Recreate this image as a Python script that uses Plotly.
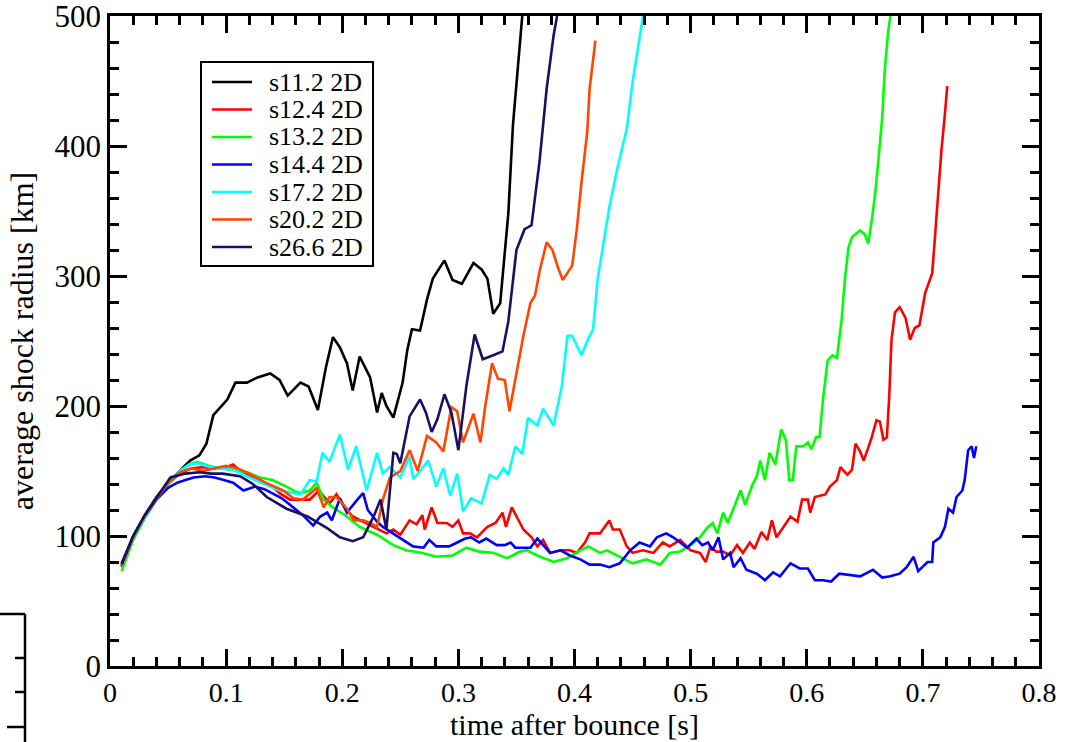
import plotly.graph_objects as go

# ---------------- data ----------------
names = ["s11.2 2D", "s12.4 2D", "s13.2 2D", "s14.4 2D", "s17.2 2D", "s20.2 2D", "s26.6 2D"]
colors = ["#000000", "#ff0000", "#00ff00", "#0000ff", "#00ffff", "#ff4500", "#1a1060"]

t_s11 = [0.010, 0.020, 0.030, 0.040, 0.050, 0.060, 0.069, 0.077, 0.083, 0.089, 0.095, 0.101, 0.108, 0.118,
         0.127, 0.138, 0.146, 0.153, 0.164, 0.171, 0.179, 0.186, 0.192, 0.198, 0.204, 0.209, 0.215, 0.224,
         0.230, 0.234, 0.238, 0.244, 0.252, 0.256, 0.260, 0.267, 0.273, 0.278, 0.288, 0.295, 0.303, 0.313,
         0.320, 0.325, 0.330, 0.336, 0.343, 0.347, 0.351, 0.355]
r_s11 = [77, 100, 116, 130, 141, 150, 158, 162, 171, 193, 199, 205, 218, 218,
         222, 225, 220, 208, 218, 215, 197, 230, 253, 245, 233, 212, 238, 222,
         195, 210, 200, 191, 218, 243, 259, 258, 282, 298, 312, 297, 294, 310,
         305, 298, 271, 279, 348, 416, 458, 500]

t_s12 = [0.010, 0.020, 0.030, 0.040, 0.050, 0.060, 0.070, 0.080, 0.090, 0.100, 0.106, 0.112, 0.120, 0.131,
         0.140, 0.146, 0.155, 0.164, 0.172, 0.180, 0.189, 0.195, 0.202, 0.209, 0.218, 0.227, 0.238, 0.244,
         0.250, 0.258, 0.264, 0.269, 0.271, 0.277, 0.282, 0.290, 0.295, 0.300, 0.304, 0.310, 0.316, 0.325,
         0.332, 0.338, 0.341, 0.346, 0.350, 0.356, 0.363, 0.368, 0.373, 0.379, 0.388, 0.396, 0.402, 0.409,
         0.413, 0.422, 0.430, 0.433, 0.439, 0.445, 0.450, 0.459, 0.468, 0.476, 0.482, 0.491, 0.500, 0.508,
         0.513, 0.517, 0.522, 0.528, 0.534, 0.540, 0.545, 0.551, 0.555, 0.561, 0.566, 0.570, 0.574, 0.580,
         0.586, 0.592, 0.596, 0.601, 0.603, 0.607, 0.616, 0.620, 0.626, 0.629, 0.635, 0.639, 0.642, 0.646,
         0.649, 0.653, 0.656, 0.660, 0.663, 0.666, 0.669, 0.671, 0.673, 0.676, 0.680, 0.685, 0.689, 0.693,
         0.697, 0.702, 0.708, 0.710, 0.713, 0.716, 0.719, 0.721]
r_s12 = [76, 99, 116, 129, 140, 148, 152, 153, 152, 153, 155, 150, 146, 141,
         138, 133, 128, 128, 128, 135, 125, 132, 122, 115, 111, 107, 102, 105,
         101, 112, 109, 116, 105, 122, 110, 110, 107, 112, 102, 102, 99, 107,
         110, 118, 107, 122, 115, 105, 99, 92, 97, 87, 89, 89, 87, 95,
         102, 102, 112, 105, 105, 92, 87, 89, 87, 95, 92, 97, 89, 87,
         80, 92, 88, 88, 85, 93, 87, 95, 90, 103, 97, 112, 99, 107,
         115, 111, 128, 128, 118, 130, 132, 138, 143, 153, 147, 151, 171, 165,
         158, 168, 176, 189, 188, 174, 176, 207, 251, 272, 276, 268, 251, 260,
         262, 287, 302, 325, 364, 397, 425, 446]

t_s13 = [0.010, 0.020, 0.030, 0.040, 0.050, 0.060, 0.068, 0.075, 0.085, 0.095, 0.106, 0.118, 0.129, 0.140,
         0.152, 0.160, 0.164, 0.172, 0.178, 0.184, 0.192, 0.204, 0.215, 0.230, 0.244, 0.255, 0.269, 0.281,
         0.295, 0.307, 0.318, 0.330, 0.342, 0.353, 0.359, 0.368, 0.382, 0.394, 0.405, 0.412, 0.422, 0.428,
         0.439, 0.450, 0.462, 0.474, 0.482, 0.491, 0.500, 0.508, 0.514, 0.519, 0.523, 0.528, 0.532, 0.537,
         0.543, 0.547, 0.553, 0.557, 0.560, 0.564, 0.568, 0.573, 0.578, 0.582, 0.585, 0.588, 0.591, 0.597,
         0.601, 0.604, 0.608, 0.611, 0.614, 0.618, 0.622, 0.626, 0.630, 0.633, 0.636, 0.639, 0.646, 0.650,
         0.653, 0.656, 0.659, 0.662, 0.665, 0.667, 0.670, 0.672]
r_s13 = [73, 97, 114, 128, 140, 149, 155, 157, 154, 152, 151, 149, 145, 143,
         138, 134, 133, 135, 141, 128, 122, 115, 107, 101, 93, 89, 87, 84,
         85, 91, 88, 87, 83, 88, 89, 85, 80, 83, 89, 92, 87, 89,
         84, 79, 82, 78, 87, 88, 93, 99, 106, 110, 102, 118, 110, 122,
         135, 124, 139, 146, 158, 143, 164, 155, 182, 174, 143, 143, 169, 169,
         172, 167, 176, 176, 205, 235, 239, 237, 266, 299, 322, 330, 335, 332,
         325, 343, 364, 392, 422, 456, 487, 500]

t_s14 = [0.010, 0.020, 0.030, 0.040, 0.050, 0.058, 0.065, 0.072, 0.082, 0.090, 0.098, 0.106, 0.115, 0.125,
         0.133, 0.140, 0.148, 0.155, 0.166, 0.175, 0.181, 0.187, 0.191, 0.198, 0.204, 0.213, 0.218, 0.222,
         0.230, 0.235, 0.244, 0.252, 0.261, 0.270, 0.275, 0.281, 0.292, 0.299, 0.306, 0.311, 0.318, 0.324,
         0.333, 0.340, 0.345, 0.349, 0.357, 0.362, 0.368, 0.373, 0.379, 0.388, 0.396, 0.405, 0.413, 0.422,
         0.430, 0.439, 0.448, 0.456, 0.465, 0.471, 0.479, 0.485, 0.491, 0.497, 0.505, 0.510, 0.515, 0.519,
         0.524, 0.528, 0.534, 0.537, 0.543, 0.548, 0.557, 0.564, 0.571, 0.577, 0.586, 0.594, 0.601, 0.607,
         0.614, 0.621, 0.628, 0.637, 0.646, 0.657, 0.665, 0.672, 0.680, 0.686, 0.692, 0.696, 0.704, 0.708,
         0.709, 0.715, 0.719, 0.722, 0.726, 0.729, 0.734, 0.736, 0.739, 0.742, 0.744, 0.746]
r_s14 = [79, 100, 115, 128, 137, 141, 143, 145, 146, 145, 143, 141, 135, 138,
         136, 133, 129, 124, 116, 108, 115, 118, 112, 129, 118, 128, 133, 120,
         111, 107, 102, 97, 92, 91, 97, 92, 92, 95, 98, 99, 95, 98,
         93, 93, 95, 91, 91, 91, 98, 93, 87, 89, 85, 82, 78, 78,
         76, 79, 89, 95, 92, 99, 102, 99, 95, 91, 98, 93, 95, 89,
         99, 82, 87, 76, 83, 74, 71, 66, 72, 69, 79, 75, 75, 66,
         66, 65, 71, 70, 69, 74, 68, 69, 71, 76, 84, 73, 80, 80,
         95, 99, 107, 121, 118, 130, 135, 143, 166, 169, 160, 169]

t_s17 = [0.010, 0.020, 0.030, 0.040, 0.050, 0.060, 0.068, 0.075, 0.086, 0.106, 0.120, 0.146, 0.164, 0.172,
         0.178, 0.183, 0.189, 0.198, 0.205, 0.212, 0.221, 0.230, 0.235, 0.241, 0.250, 0.258, 0.261, 0.267,
         0.274, 0.281, 0.287, 0.293, 0.299, 0.304, 0.311, 0.320, 0.327, 0.333, 0.339, 0.343, 0.349, 0.355,
         0.360, 0.368, 0.373, 0.382, 0.389, 0.394, 0.398, 0.406, 0.412, 0.416, 0.420, 0.425, 0.430, 0.437,
         0.445, 0.450, 0.455, 0.459]
r_s17 = [77, 99, 115, 129, 141, 150, 155, 156, 153, 151, 145, 135, 132, 143,
         142, 164, 157, 178, 151, 169, 135, 164, 148, 153, 145, 161, 144, 150,
         158, 138, 152, 131, 148, 119, 129, 125, 147, 144, 152, 147, 169, 163,
         191, 185, 198, 185, 215, 254, 254, 239, 252, 259, 298, 325, 353, 383,
         413, 449, 479, 500]

t_s20 = [0.010, 0.020, 0.030, 0.040, 0.050, 0.060, 0.070, 0.080, 0.090, 0.100, 0.110, 0.120, 0.134, 0.149,
         0.158, 0.166, 0.178, 0.184, 0.189, 0.195, 0.204, 0.210, 0.218, 0.224, 0.230, 0.235, 0.241, 0.250,
         0.258, 0.265, 0.273, 0.281, 0.287, 0.294, 0.299, 0.304, 0.313, 0.319, 0.323, 0.329, 0.334, 0.340,
         0.344, 0.350, 0.356, 0.362, 0.366, 0.370, 0.376, 0.381, 0.386, 0.390, 0.398, 0.402, 0.406, 0.411,
         0.413, 0.418]
r_s20 = [77, 99, 116, 129, 141, 149, 152, 150, 152, 154, 152, 148, 141, 135,
         129, 128, 137, 122, 130, 130, 121, 112, 112, 110, 107, 128, 145, 150,
         166, 150, 177, 172, 165, 199, 196, 172, 194, 172, 199, 233, 221, 220,
         196, 225, 254, 279, 285, 304, 326, 320, 306, 297, 308, 336, 372, 411,
         444, 481]

t_s26 = [0.010, 0.020, 0.030, 0.040, 0.052, 0.065, 0.077, 0.087, 0.097, 0.112, 0.123, 0.135, 0.152, 0.170,
         0.187, 0.198, 0.209, 0.218, 0.227, 0.233, 0.238, 0.244, 0.247, 0.250, 0.258, 0.267, 0.272, 0.277,
         0.282, 0.288, 0.294, 0.300, 0.307, 0.314, 0.321, 0.330, 0.338, 0.343, 0.350, 0.357, 0.363, 0.370,
         0.376, 0.382, 0.385]
r_s26 = [78, 100, 116, 129, 145, 148, 149, 148, 148, 146, 140, 130, 121, 115,
         106, 99, 96, 99, 115, 128, 105, 164, 163, 156, 192, 205, 195, 180,
         190, 209, 195, 166, 216, 255, 236, 239, 242, 265, 320, 336, 339, 389,
         444, 485, 500]

series_t = [t_s11, t_s12, t_s13, t_s14, t_s17, t_s20, t_s26]
series_r = [r_s11, r_s12, r_s13, r_s14, r_s17, r_s20, r_s26]

x_range = [0, 0.8]
y_range = [0, 500]
x_title = "time after bounce [s]"
y_title = "average shock radius [km]"

# ---------------- figure ----------------
W, H = 1077, 742
ML, MR, MT, MB = 110, 38, 16, 76
PW, PH = W - ML - MR, H - MT - MB
FONT = "Liberation Serif, Times New Roman, serif"

def px(xp):   # pixel x -> paper
    return (xp - ML) / PW

def py(yp):   # pixel y -> paper
    return (H - MB - yp) / PH

fig = go.Figure()
for t, r, n, c in zip(series_t, series_r, names, colors):
    fig.add_trace(go.Scatter(x=t, y=r, mode="lines", name=n,
                             line=dict(color=c, width=2.6), showlegend=False))

axis_common = dict(
    showgrid=False, zeroline=False, showline=True, linecolor="black", linewidth=2.5,
    mirror="ticks", ticks="inside", tickcolor="black", tickwidth=2.5, ticklen=17,
    automargin=False, ticklabeloverflow="allow",
)
fig.update_xaxes(range=x_range, dtick=0.1, tick0=0,
                 tickfont=dict(family=FONT, size=28, color="black"),
                 minor=dict(dtick=0.02, ticks="inside", ticklen=9, tickwidth=2.5, tickcolor="black"),
                 title=dict(text=x_title, font=dict(family=FONT, size=30, color="black"), standoff=3),
                 **axis_common)
fig.update_yaxes(range=y_range, dtick=100, tick0=0,
                 tickfont=dict(family=FONT, size=31, color="black"),
                 minor=dict(dtick=20, ticks="inside", ticklen=9, tickwidth=2.5, tickcolor="black"),
                 title=dict(text=y_title, font=dict(family=FONT, size=32, color="black"), standoff=12),
                 **axis_common)

# legend box drawn inside the plot (positions in pixels -> paper)
shapes = []
annotations = []
box = dict(x0=201, x1=373, y0=62, y1=266)
shapes.append(dict(type="rect", xref="paper", yref="paper",
                   x0=px(box["x0"]), x1=px(box["x1"]), y0=py(box["y1"]), y1=py(box["y0"]),
                   line=dict(color="black", width=2), fillcolor="white", layer="above"))
row0, row_step = 82, 27.5
for i, (n, c) in enumerate(zip(names, colors)):
    yy = py(row0 + i * row_step)
    shapes.append(dict(type="line", xref="paper", yref="paper", x0=px(212), x1=px(252), y0=yy, y1=yy,
                       line=dict(color=c, width=2.5), layer="above"))
    annotations.append(dict(xref="paper", yref="paper", x=px(267), y=yy, text=n, showarrow=False,
                            xanchor="left", yanchor="middle",
                            font=dict(family=FONT, size=26, color="black")))

# fragment of a neighbouring panel at the lower-left corner
frag = dict(xref="paper", yref="paper", line=dict(color="black", width=2.5))
shapes.append(dict(type="line", x0=px(0), x1=px(25), y0=py(614), y1=py(614), **frag))
shapes.append(dict(type="line", x0=px(25), x1=px(25), y0=py(614), y1=py(745), **frag))
for ty, tl in [(658, 10), (692, 10), (727, 18)]:
    shapes.append(dict(type="line", x0=px(25 - tl), x1=px(25), y0=py(ty), y1=py(ty), **frag))

fig.update_layout(
    width=W, height=H,
    margin=dict(l=ML, r=MR, t=MT, b=MB, pad=0, autoexpand=False),
    paper_bgcolor="white", plot_bgcolor="white",
    showlegend=False,
    shapes=shapes, annotations=annotations,
    font=dict(family=FONT, color="black"),
)

fig.write_html("out.html", config={"displayModeBar": False},
               post_script="document.body.style.margin='0';document.body.style.overflow='hidden';")
